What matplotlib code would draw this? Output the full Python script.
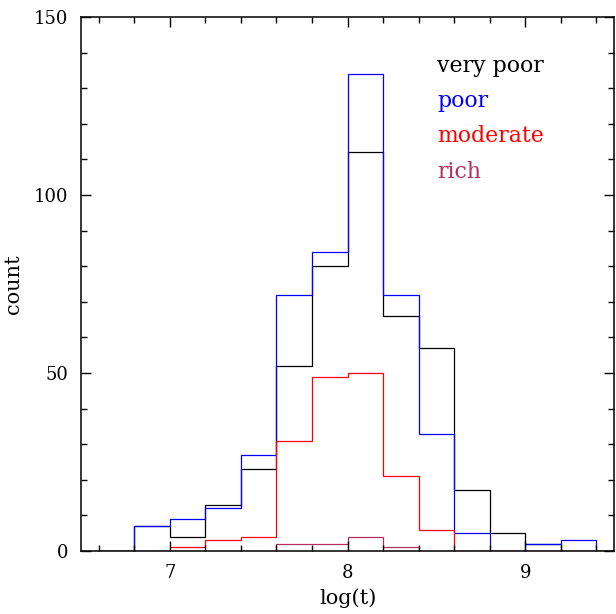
import matplotlib
matplotlib.use("Agg")
import matplotlib.pyplot as plt
import numpy as np
from matplotlib.ticker import MultipleLocator

# bin edges of log(t), width 0.2
edges = np.round(np.arange(6.6, 9.61, 0.2), 1)

# counts per bin (6.6-6.8, 6.8-7.0, ..., 9.4-9.6)
very_poor = [0, 7, 4, 13, 23, 52, 80, 112, 66, 57, 17, 5, 2, 0, 0]
poor = [0, 7, 9, 12, 27, 72, 84, 134, 72, 33, 5, 0, 2, 3, 0]
moderate = [0, 0, 1, 3, 4, 31, 49, 50, 21, 6, 0, 0, 0, 0, 0]
rich = [0, 0, 0, 0, 0, 2, 2, 4, 1, 0, 0, 0, 0, 0, 0]

series_names = ["very poor", "poor", "moderate", "rich"]
series_colors = ["black", "#0000ff", "#ff0000", "#b03060"]


def main():
    plt.rcParams["font.family"] = ["DejaVu Serif"]

    fig = plt.figure(figsize=(6.16, 6.14), dpi=100)
    ax = fig.add_axes([0.1315, 0.1026, 0.8655, 0.8697])

    # Draw the histograms as outlines
    for counts, color in zip([very_poor, poor, moderate, rich], series_colors):
        ax.stairs(counts, edges, color=color, linewidth=0.9)

    ax.set_xlim(6.5, 9.5)
    ax.set_ylim(0, 150)

    ax.xaxis.set_major_locator(MultipleLocator(1))
    ax.xaxis.set_minor_locator(MultipleLocator(0.2))
    ax.yaxis.set_major_locator(MultipleLocator(50))
    ax.yaxis.set_minor_locator(MultipleLocator(10))

    ax.tick_params(which="both", direction="in", top=True, right=True,
                   width=1.0, labelsize=13)
    ax.tick_params(which="major", length=7.5, pad=9)
    ax.tick_params(which="minor", length=4.5)
    for spine in ax.spines.values():
        spine.set_linewidth(1.1)

    ax.set_xlabel("log(t)", fontsize=15, labelpad=5)
    ax.set_ylabel("count", fontsize=15, labelpad=8)

    # Labels in the top right corner
    label_y = [0.8976, 0.832, 0.7665, 0.6985]
    for name, color, y in zip(series_names, series_colors, label_y):
        ax.text(0.668, y, name, color=color, fontsize=15.8,
                transform=ax.transAxes, ha="left", va="baseline")

    fig.savefig("out.png", dpi=100)


if __name__ == "__main__":
    main()
